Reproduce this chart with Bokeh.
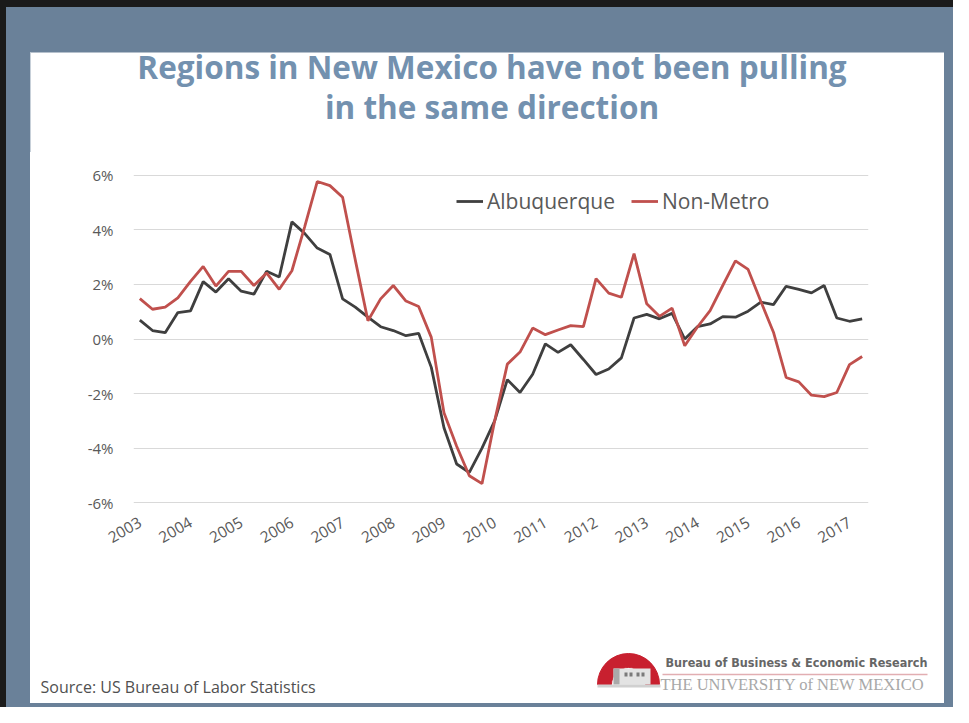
import math
from bokeh.plotting import figure
from bokeh.models import Range1d, FixedTicker, Legend, LegendItem, Div, ColumnDataSource
from bokeh.layouts import column, row
from bokeh.embed import file_html
from bokeh.resources import INLINE
from bokeh.core.properties import value

# ---------------- data ----------------
years = [str(y) for y in range(2003, 2018)]
quarters = [f"{y}Q{q}" for y in range(2003, 2018) for q in range(1, 5)][:58]

albuquerque = [0.69, 0.31, 0.23, 0.97, 1.03, 2.10, 1.72, 2.21, 1.75, 1.64,
               2.48, 2.27, 4.29, 3.87, 3.33, 3.10, 1.47, 1.17, 0.80, 0.45,
               0.31, 0.12, 0.21, -1.04, -3.25, -4.58, -4.89, -4.00, -3.00, -1.49,
               -1.96, -1.29, -0.18, -0.49, -0.21, -0.75, -1.30, -1.10, -0.69, 0.77,
               0.90, 0.74, 0.94, 0.00, 0.45, 0.55, 0.82, 0.80, 1.02, 1.35,
               1.26, 1.93, 1.82, 1.69, 1.96, 0.77, 0.65, 0.74]

non_metro = [1.48, 1.09, 1.17, 1.51, 2.11, 2.66, 1.94, 2.48, 2.48, 1.96,
             2.42, 1.82, 2.50, 4.10, 5.77, 5.62, 5.19, 2.90, 0.67, 1.47,
             1.96, 1.39, 1.19, 0.06, -2.70, -3.93, -5.01, -5.30, -3.00, -0.92,
             -0.48, 0.40, 0.16, 0.33, 0.49, 0.45, 2.21, 1.68, 1.53, 3.13,
             1.29, 0.83, 1.13, -0.25, 0.44, 1.04, 1.96, 2.86, 2.55, 1.38,
             0.25, -1.41, -1.57, -2.06, -2.11, -1.96, -0.94, -0.64]

series_names = ["Albuquerque", "Non-Metro"]
y_ticks = [-6, -4, -2, 0, 2, 4, 6]
y_tick_labels = ["-6%", "-4%", "-2%", "0%", "2%", "4%", "6%"]
title_lines = ["Regions in New Mexico have not been pulling", "in the same direction"]
source_text = "Source: US Bureau of Labor Statistics"
logo_line1 = "Bureau of Business & Economic Research"
logo_line2 = "THE UNIVERSITY of NEW MEXICO"

# ---------------- styles ----------------
FRAME_BLUE = "#6A8199"
EDGE = "#1A1A1A"
TITLE_COLOR = "#7391AF"
TEXT_GRAY = "#595959"
BLACK_LINE = "#3F3F3F"
RED_LINE = "#C0504D"
FONT = "Open Sans"
W = 953            # whole page content width
PW = 914           # white panel width
PX = 30            # white panel left offset
BAND = 45          # blue band height above the white panel inside the header
HH, PH, FH = 145, 480, 71   # header (blue band + title) / chart / footer heights
MH = HH + PH + FH
INNER_BG = {
    "background-color": "#ffffff",
    "background-image": (f"linear-gradient(to bottom, {FRAME_BLUE} 0px, {FRAME_BLUE} {BAND}px, "
                         f"#ffffff {BAND}px, #ffffff 100%)"),
}


def bare_figure(w, h, bg="white"):
    fig = figure(width=w, height=h, output_backend="svg", toolbar_location=None,
                 x_range=Range1d(0, w), y_range=Range1d(0, h),
                 x_axis_type=None, y_axis_type=None,
                 min_border=0, min_border_left=0, min_border_right=0,
                 min_border_top=0, min_border_bottom=0)
    fig.outline_line_color = None
    fig.xgrid.grid_line_color = None
    fig.ygrid.grid_line_color = None
    fig.background_fill_color = bg
    fig.border_fill_color = bg
    return fig


# ---------------- header: blue band + title ----------------
hdr = bare_figure(PW, HH, FRAME_BLUE)
hdr.quad(left=[0], right=[PW], bottom=[0], top=[HH - BAND], fill_color="white", line_color=None)
hdr.text(x=[461.5, 461.5], y=[86, 46], text=title_lines, text_font=value(FONT),
         text_font_style="bold", text_font_size="31.5px", text_color=TITLE_COLOR,
         text_align="center", text_baseline="middle")

# ---------------- main chart ----------------
x_idx = list(range(len(quarters)))
src = ColumnDataSource(dict(x=x_idx, alb=albuquerque, nm=non_metro))

p = figure(width=PW, height=PH, output_backend="svg", toolbar_location=None,
           x_range=Range1d(-0.5, len(quarters) - 0.5), y_range=Range1d(-6.1, 6.1),
           min_border_left=103, min_border_right=76, min_border_top=20, min_border_bottom=127)
p.outline_line_color = None
p.background_fill_color = "white"
p.border_fill_color = "white"

r1 = p.line("x", "alb", source=src, line_color=BLACK_LINE, line_width=2.8)
r2 = p.line("x", "nm", source=src, line_color=RED_LINE, line_width=2.8)

p.yaxis.ticker = FixedTicker(ticks=y_ticks)
p.yaxis.major_label_overrides = {t: l for t, l in zip(y_ticks, y_tick_labels)}
p.yaxis.axis_line_color = None
p.yaxis.major_tick_line_color = None
p.yaxis.minor_tick_line_color = None
p.yaxis.major_tick_out = 0
p.yaxis.major_tick_in = 0
p.yaxis.major_label_standoff = 20
p.yaxis.major_label_text_font = FONT
p.yaxis.major_label_text_font_size = "15px"
p.yaxis.major_label_text_color = TEXT_GRAY

x_tick_pos = [quarters.index(f"{y}Q1") for y in years]
p.xaxis.ticker = FixedTicker(ticks=x_tick_pos)
p.xaxis.major_label_overrides = {t: y for t, y in zip(x_tick_pos, years)}
p.xaxis.axis_line_color = None
p.xaxis.major_tick_line_color = None
p.xaxis.minor_tick_line_color = None
p.xaxis.major_tick_out = 0
p.xaxis.major_tick_in = 0
p.xaxis.major_label_standoff = 15
p.xaxis.major_label_orientation = math.pi / 6
p.xaxis.major_label_text_font = FONT
p.xaxis.major_label_text_font_size = "15.5px"
p.xaxis.major_label_text_color = TEXT_GRAY

p.xgrid.grid_line_color = None
p.ygrid.grid_line_color = "#D9D9D9"
p.ygrid.grid_line_width = 1

legend = Legend(items=[LegendItem(label=series_names[0], renderers=[r1]),
                       LegendItem(label=series_names[1], renderers=[r2])],
                orientation="horizontal", location=(323, 290),
                glyph_width=27, glyph_height=20, label_height=20, label_standoff=4,
                spacing=16, padding=0, margin=0, border_line_color=None,
                background_fill_alpha=0, label_text_font=FONT,
                label_text_font_size="21px", label_text_color=TEXT_GRAY)
p.add_layout(legend)

# ---------------- footer (source + logo) ----------------
f = bare_figure(PW, FH)
f.text(x=[10], y=[17], text=[source_text], text_font=value(FONT), text_font_size="16px",
       text_color="#505050", text_baseline="middle", text_align="left")

f.annular_wedge(x=[598], y=[19], inner_radius=17, outer_radius=31, start_angle=0,
                end_angle=math.pi, color="#C8202F")
f.quad(left=[583], right=[620], bottom=[19], top=[35], fill_color="#E3E3E3", line_color=None)
f.quad(left=[583], right=[589], bottom=[19], top=[35], fill_color="#A9A9A9", line_color=None)
f.quad(left=[594, 599, 606, 611], right=[597, 602, 609, 614], bottom=[27, 27, 27, 27],
       top=[31, 31, 31, 31], fill_color="#7A7A7A", line_color=None)
f.quad(left=[567], right=[630], bottom=[16], top=[19], fill_color="#D0D0D0", line_color=None)
f.text(x=[635], y=[41], text=[logo_line1],
       text_font=value("'DejaVu Sans Condensed', sans-serif"),
       text_font_style="bold", text_font_size="12.5px", text_color="#666666",
       text_baseline="middle", text_align="left")
f.segment(x0=[632], y0=[29], x1=[897], y1=[29], line_color="#E2AEB2", line_width=1.5)
f.text(x=[630], y=[19], text=[logo_line2],
       text_font=value("Liberation Serif"), text_font_size="16.5px", text_color="#A8A8A8",
       text_baseline="middle", text_align="left")

for fig in (hdr, p, f):
    if "frame_align" in fig.properties():
        fig.frame_align = False

# ---------------- page frame ----------------
def pad(w, h, color=FRAME_BLUE):
    return Div(text="", width=w, height=h, margin=(0, 0, 0, 0),
               styles={"background-color": color})

inner = column(hdr, p, f, spacing=0, margin=(0, 0, 0, 0), styles=INNER_BG)
mid = row(pad(6, MH, EDGE), pad(PX - 6, MH), inner, pad(W - PX - PW, MH),
          spacing=0, margin=(0, 0, 0, 0))
top = pad(W, 7, EDGE)
bottom = row(pad(6, 4, EDGE), pad(W - 6, 4), spacing=0, margin=(0, 0, 0, 0))
page = column(top, mid, bottom, spacing=0, margin=(0, 0, 0, 0))

open("out.html", "w").write(file_html(page, INLINE))
